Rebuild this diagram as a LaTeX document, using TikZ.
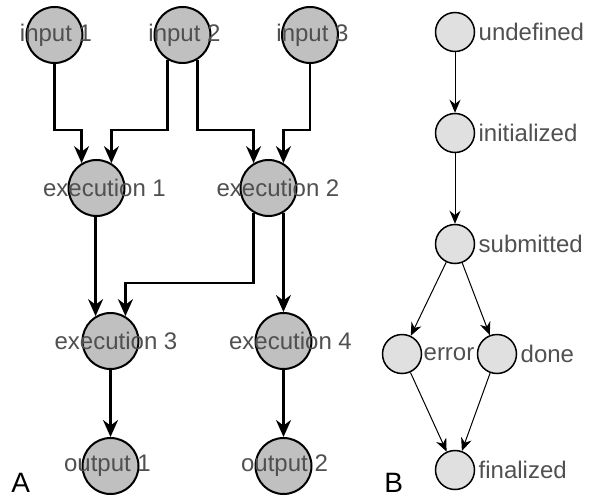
\documentclass[tikz,border=0pt]{standalone}
\usepackage{fontspec}
\setmainfont{Liberation Sans}
\usetikzlibrary{arrows.meta}
\definecolor{txtgray}{HTML}{505050}
\definecolor{jobfill}{HTML}{C0C0C0}
\definecolor{statefill}{HTML}{E0E0E0}

\begin{document}
\begin{tikzpicture}[
  x=0.5pt,
  y=-0.5pt,
  job/.style={
    circle,
    draw,
    line width=1pt,
    fill=jobfill,
    minimum size=28pt,
    inner sep=0pt
  },
  state/.style={
    circle,
    draw,
    line width=0.75pt,
    fill=statefill,
    minimum size=19.5pt,
    inner sep=0pt
  },
  lbl/.style={
    font=\fontsize{12}{14}\selectfont,
    text=txtgray,
    inner sep=0pt
  },
  flow/.style={
    -{Stealth[length=8.5pt,width=7.5pt]},
    line width=1.1pt
  },
  trans/.style={
    -{Stealth[length=6.5pt,width=5.5pt]},
    line width=0.5pt
  },
  panel/.style={
    font=\fontsize{14}{17}\selectfont,
    inner sep=0pt,
    anchor=base west
  }
]
  \useasboundingbox (0,0) rectangle (603,497);

  \node[job, label={[lbl,xshift=0.75pt]center:input 1}] (in1) at (54.5,35) {};
  \node[job, label={[lbl,xshift=1pt]center:input 2}] (in2) at (182.5,35) {};
  \node[job, label={[lbl,xshift=1.25pt]center:input 3}] (in3) at (310,35) {};
  \node[job, label={[lbl,xshift=4pt]center:execution 1}] (ex1) at (96.5,188) {};
  \node[job, label={[lbl,xshift=4.75pt]center:execution 2}] (ex2) at (268.5,188) {};
  \node[job, label={[lbl,xshift=2.75pt]center:execution 3}] (ex3) at (110.5,341) {};
  \node[job, label={[lbl,xshift=3.5pt]center:execution 4}] (ex4) at (283.5,341) {};
  \node[job, label={[lbl,xshift=-1.5pt]center:output 1}] (out1) at (110.5,466) {};
  \node[job, label={[lbl,xshift=0.5pt]center:output 2}] (out2) at (283.5,466) {};

  \coordinate (busA) at (0,130);
  \coordinate (busB) at (0,283);

  \draw[flow] (in1.south) -- (in1.south |- busA) -| (ex1.121);
  \draw[flow] (in2.239) -- (in2.239 |- busA) -| (ex1.59);
  \draw[flow] (in2.301) -- (in2.301 |- busA) -| (ex2.121);
  \draw[flow] (in3.south) -- (in3.south |- busA) -| (ex2.59);
  \draw[flow] (ex3.121 |- ex1.south) -- (ex3.121);
  \draw[flow] (ex2.239) -- (ex2.239 |- busB) -| (ex3.59);
  \draw[flow] (ex2.301) -- (ex2.301 |- ex4.north);
  \draw[flow] (ex3) -- (out1);
  \draw[flow] (ex4) -- (out2);

  \node[state, label={[lbl,label distance=1.5pt]right:undefined}] (undef) at (455,32) {};
  \node[state, label={[lbl,label distance=1.5pt]right:initialized}] (init) at (455,133) {};
  \node[state, label={[lbl,label distance=1.5pt]right:submitted}] (subm) at (455,244) {};
  \node[state, label={[lbl,label distance=0.5pt]right:error}] (err) at (402,354) {};
  \node[state, label={[lbl,label distance=1.5pt]right:done}] (done) at (497,354) {};
  \node[state, label={[lbl,label distance=1.5pt]right:finalized}] (final) at (455,470) {};

  \draw[trans] (undef) -- (init);
  \draw[trans] (init) -- (subm);
  \draw[trans] (subm) -- (err);
  \draw[trans] (subm) -- (done);
  \draw[trans] (err) -- (final);
  \draw[trans] (done) -- (final);

  \node[panel] (lblA) at (11,492) {A};
  \node[panel] (lblB) at (384,492) {B};
\end{tikzpicture}
\end{document}
